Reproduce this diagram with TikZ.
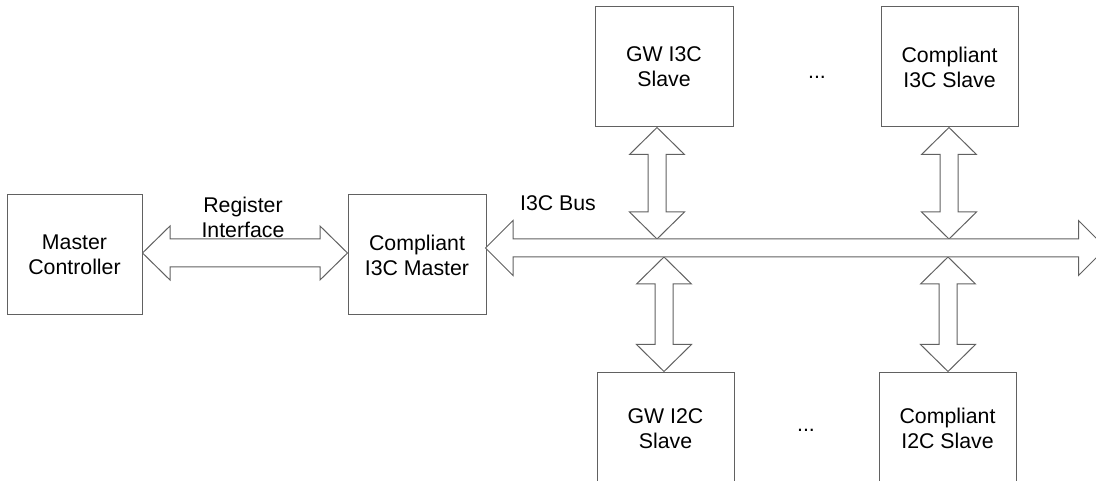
\documentclass[tikz,border=0pt]{standalone}
\usepackage{fontspec}
\setmainfont{Liberation Sans}
\usetikzlibrary{calc}
\tikzset{
  box/.style={draw=black!62, line width=1pt, minimum width=#1, minimum height=120pt, align=center, inner sep=0pt, font=\fontsize{21.3}{25}\selectfont},
  box/.default=138pt,
  lbl/.style={align=center, inner sep=0pt, font=\fontsize{21.3}{25}\selectfont},
  arr/.style={draw=black!62, line width=1pt, fill=white, line join=miter}
}
% #1 top tip, #2 bottom tip
\newcommand{\vdarrow}[2]{%
  \draw[arr] let \p1=(#1), \p2=(#2) in
    (\p1) -- (\x1+27.5pt,\y1-27pt) -- (\x1+9pt,\y1-27pt) -- (\x1+9pt,\y2+27pt)
    -- (\x1+27.5pt,\y2+27pt) -- (\p2) -- (\x1-27.5pt,\y2+27pt) -- (\x1-9pt,\y2+27pt)
    -- (\x1-9pt,\y1-27pt) -- (\x1-27.5pt,\y1-27pt) -- cycle;}
% #1 left tip, #2 right tip, #3 shaft half width, #4 head half width
\newcommand{\hdarrow}[4]{%
  \draw[arr] let \p1=(#1), \p2=(#2) in
    (\p1) -- (\x1+27.5pt,\y1+#4) -- (\x1+27.5pt,\y1+#3) -- (\x2-27.5pt,\y1+#3)
    -- (\x2-27.5pt,\y1+#4) -- (\p2) -- (\x2-27.5pt,\y1-#4) -- (\x2-27.5pt,\y1-#3)
    -- (\x1+27.5pt,\y1-#3) -- (\x1+27.5pt,\y1-#4) -- cycle;}
\begin{document}
\begin{tikzpicture}[x=1pt,y=-1pt]
\useasboundingbox (0,0) rectangle (1096,481);

\node[box=135pt] (mc) at (74.5,255) {Master\\Controller};
\node[box] (m) at (417,255) {Compliant\\I3C Master};
\node[box] (gw3) at (664,67) {GW I3C\\Slave};
\node[box=137pt] (c3) at (949.5,67) {Compliant\\I3C Slave};
\node[box=137pt, minimum height=113pt] (gw2) at (665.5,428.5) {GW I2C\\Slave};
\node[box=137pt, minimum height=113pt] (c2) at (947.5,428.5) {Compliant\\I2C Slave};

\node[lbl] (dots3) at (817,77) {...};
\node[lbl] (dots2) at (806,430) {...};
\node[lbl] (reg) at (243,217) {Register\\Interface};
\node[lbl] (bus) at (558,203) {I3C Bus};

% bus reference points
\coordinate (busL) at ($(m.east)+(-1,-7)$);
\coordinate (busR) at (1106,248);
\coordinate (busTop) at (0,239);
\coordinate (busBot) at (0,257);

% connector end points
\coordinate (rL) at ($(mc.east)+(0,-2)$);
\coordinate (rR) at ($(m.west)+(0,-2)$);
\coordinate (a1t) at ($(gw3.south)+(-7,0)$);
\coordinate (a1b) at (a1t |- busTop);
\coordinate (a2t) at ($(c3.south)+(-0.5,0)$);
\coordinate (a2b) at (a2t |- busTop);
\coordinate (a3b) at ($(gw2.north)+(-1.5,0)$);
\coordinate (a3t) at (a3b |- busBot);
\coordinate (a4b) at ($(c2.north)+(0.5,0)$);
\coordinate (a4t) at (a4b |- busBot);

% register interface arrow
\hdarrow{rL}{rR}{14pt}{27pt}

% vertical arrows
\vdarrow{a1t}{a1b}
\vdarrow{a2t}{a2b}
\vdarrow{a3t}{a3b}
\vdarrow{a4t}{a4b}

% I3C bus (drawn last so it lies on top)
\hdarrow{busL}{busR}{9pt}{27.5pt}
\end{tikzpicture}
\end{document}
